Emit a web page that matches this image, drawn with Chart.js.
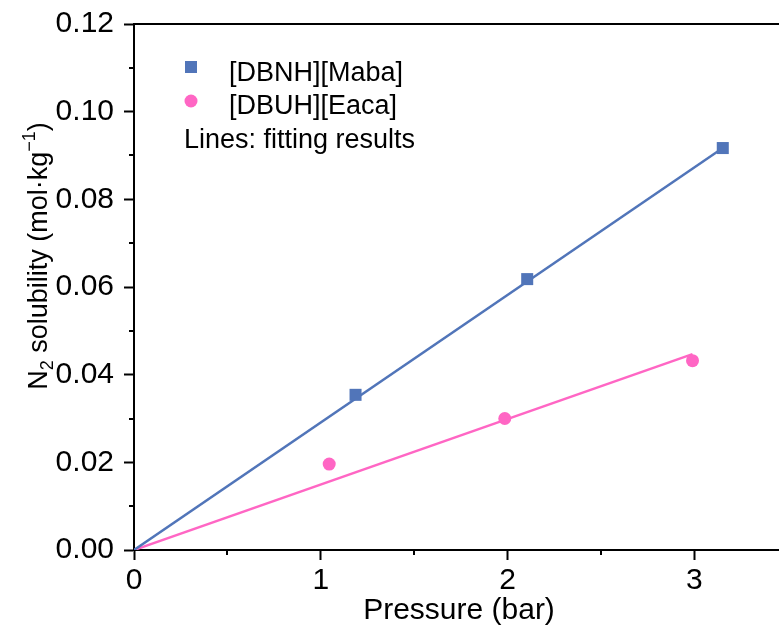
<!DOCTYPE html>
<html>
<head>
<meta charset="utf-8">
<script src="https://cdn.jsdelivr.net/npm/chart.js@4/dist/chart.umd.min.js"></script>
<style>
    html, body { margin: 0; padding: 0; background: #fff; }
    #wrap { width: 779px; height: 635px; }
</style>
</head>
<body>
<div id="wrap"><canvas id="chart" width="779" height="635"></canvas></div>
<script>
// Measured N2 solubility
const pressureMaba = [1.186, 2.105, 3.152];
const solubilityMaba = [0.0354, 0.0618, 0.0917];
const pressureEaca = [1.045, 1.985, 2.99];
const solubilityEaca = [0.0196, 0.0300, 0.0432];

// Linear fits (end points)
const fitMabaX = [0, 3.152];
const fitMabaY = [0, 0.0917];
const fitEacaX = [0, 2.99];
const fitEacaY = [0, 0.0447];

const xTicks = [0, 1, 2, 3];
const yTicks = [0, 0.02, 0.04, 0.06, 0.08, 0.10, 0.12];

const BLUE = '#5175B9';
const PINK = '#FF66C4';
const FONT = '"Liberation Sans", Arial, sans-serif';

function pts(xs, ys) {
    return xs.map((x, i) => ({ x: x, y: ys[i] }));
}

// Minor ticks, top frame, titles and the legend box
const decorations = {
    id: 'decorations',
    afterDraw(chart) {
        const ctx = chart.ctx;
        const area = chart.chartArea;
        const xs = chart.scales.x;
        const ys = chart.scales.y;
        ctx.save();
        ctx.strokeStyle = '#000';
        ctx.lineWidth = 2;

        // top frame line
        ctx.beginPath();
        ctx.moveTo(area.left - 1, area.top);
        ctx.lineTo(chart.width, area.top);
        ctx.stroke();

        // minor ticks
        ctx.beginPath();
        for (let v = 0.5; v < xs.max; v += 1) {
            const px = Math.round(xs.getPixelForValue(v));
            ctx.moveTo(px, area.bottom);
            ctx.lineTo(px, area.bottom + 5);
        }
        for (let v = 0.01; v < ys.max; v += 0.02) {
            const py = Math.round(ys.getPixelForValue(v));
            ctx.moveTo(area.left, py);
            ctx.lineTo(area.left - 5, py);
        }
        ctx.stroke();

        ctx.fillStyle = '#000';
        ctx.textBaseline = 'alphabetic';

        // x title
        ctx.font = '30px ' + FONT;
        ctx.textAlign = 'center';
        ctx.fillText('Pressure (bar)', 459, 619);

        // y title with subscript and superscript
        const parts = [
            { t: 'N', size: 27, dy: 0 },
            { t: '2', size: 18, dy: 6 },
            { t: ' solubility (mol\u00b7kg', size: 27, dy: 0 },
            { t: '\u22121', size: 18, dy: -12 },
            { t: ')', size: 27, dy: 0 }
        ];
        let total = 0;
        parts.forEach(p => {
            ctx.font = p.size + 'px ' + FONT;
            p.w = ctx.measureText(p.t).width;
            total += p.w;
        });
        ctx.translate(47, 256);
        ctx.rotate(-Math.PI / 2);
        ctx.textAlign = 'left';
        let cx = -total / 2;
        parts.forEach(p => {
            ctx.font = p.size + 'px ' + FONT;
            ctx.fillText(p.t, cx, p.dy);
            cx += p.w;
        });
        ctx.setTransform(1, 0, 0, 1, 0, 0);

        // legend
        ctx.fillStyle = BLUE;
        ctx.fillRect(185, 61, 12, 12);
        ctx.fillStyle = PINK;
        ctx.beginPath();
        ctx.arc(191, 101, 6.5, 0, Math.PI * 2);
        ctx.fill();
        ctx.fillStyle = '#000';
        ctx.font = '27px ' + FONT;
        ctx.textAlign = 'left';
        ctx.fillText('[DBNH][Maba]', 229, 81);
        ctx.fillText('[DBUH][Eaca]', 229, 114);
        ctx.fillText('Lines: fitting results', 184, 148);
        ctx.restore();
    }
};

new Chart(document.getElementById('chart'), {
    type: 'scatter',
    data: {
        datasets: [
            {
                label: 'fit Maba',
                data: pts(fitMabaX, fitMabaY),
                showLine: true,
                borderColor: BLUE,
                borderWidth: 2.5,
                pointRadius: 0,
                order: 3
            },
            {
                label: 'fit Eaca',
                data: pts(fitEacaX, fitEacaY),
                showLine: true,
                borderColor: PINK,
                borderWidth: 2.5,
                pointRadius: 0,
                order: 4
            },
            {
                label: '[DBNH][Maba]',
                data: pts(pressureMaba, solubilityMaba),
                pointStyle: 'rect',
                pointRadius: 8.5,
                backgroundColor: BLUE,
                borderColor: BLUE,
                borderWidth: 0,
                order: 1
            },
            {
                label: '[DBUH][Eaca]',
                data: pts(pressureEaca, solubilityEaca),
                pointStyle: 'circle',
                pointRadius: 6.5,
                backgroundColor: PINK,
                borderColor: PINK,
                borderWidth: 0,
                order: 2
            }
        ]
    },
    options: {
        responsive: false,
        animation: false,
        devicePixelRatio: 1,
        layout: {
            autoPadding: false,
            padding: { top: 24, right: 0, left: 0, bottom: 0 }
        },
        plugins: {
            legend: { display: false },
            tooltip: { enabled: false }
        },
        scales: {
            x: {
                type: 'linear',
                min: 0,
                max: 3.453,
                afterBuildTicks: (scale) => {
                    scale.ticks = xTicks.map(v => ({ value: v }));
                },
                ticks: {
                    color: '#000',
                    font: { family: FONT, size: 30 },
                    padding: 3,
                    maxRotation: 0,
                    callback: (v) => String(v)
                },
                grid: {
                    display: true,
                    drawOnChartArea: false,
                    drawTicks: true,
                    tickLength: 10,
                    tickWidth: 2,
                    tickColor: '#000'
                },
                border: { display: true, color: '#000', width: 2 },
                afterFit: (scale) => {
                    scale.height = 85;
                    scale.paddingLeft = 0;
                    scale.paddingRight = 0;
                }
            },
            y: {
                min: 0,
                max: 0.12,
                afterBuildTicks: (scale) => {
                    scale.ticks = yTicks.map(v => ({ value: v }));
                },
                ticks: {
                    color: '#000',
                    font: { family: FONT, size: 30 },
                    padding: 10,
                    callback: (v) => v.toFixed(2)
                },
                grid: {
                    display: true,
                    drawOnChartArea: false,
                    drawTicks: true,
                    tickLength: 10,
                    tickWidth: 2,
                    tickColor: '#000'
                },
                border: { display: true, color: '#000', width: 2 },
                afterFit: (scale) => {
                    scale.width = 134;
                    scale.paddingTop = 0;
                    scale.paddingBottom = 0;
                }
            }
        }
    },
    plugins: [decorations]
});
</script>
</body>
</html>
